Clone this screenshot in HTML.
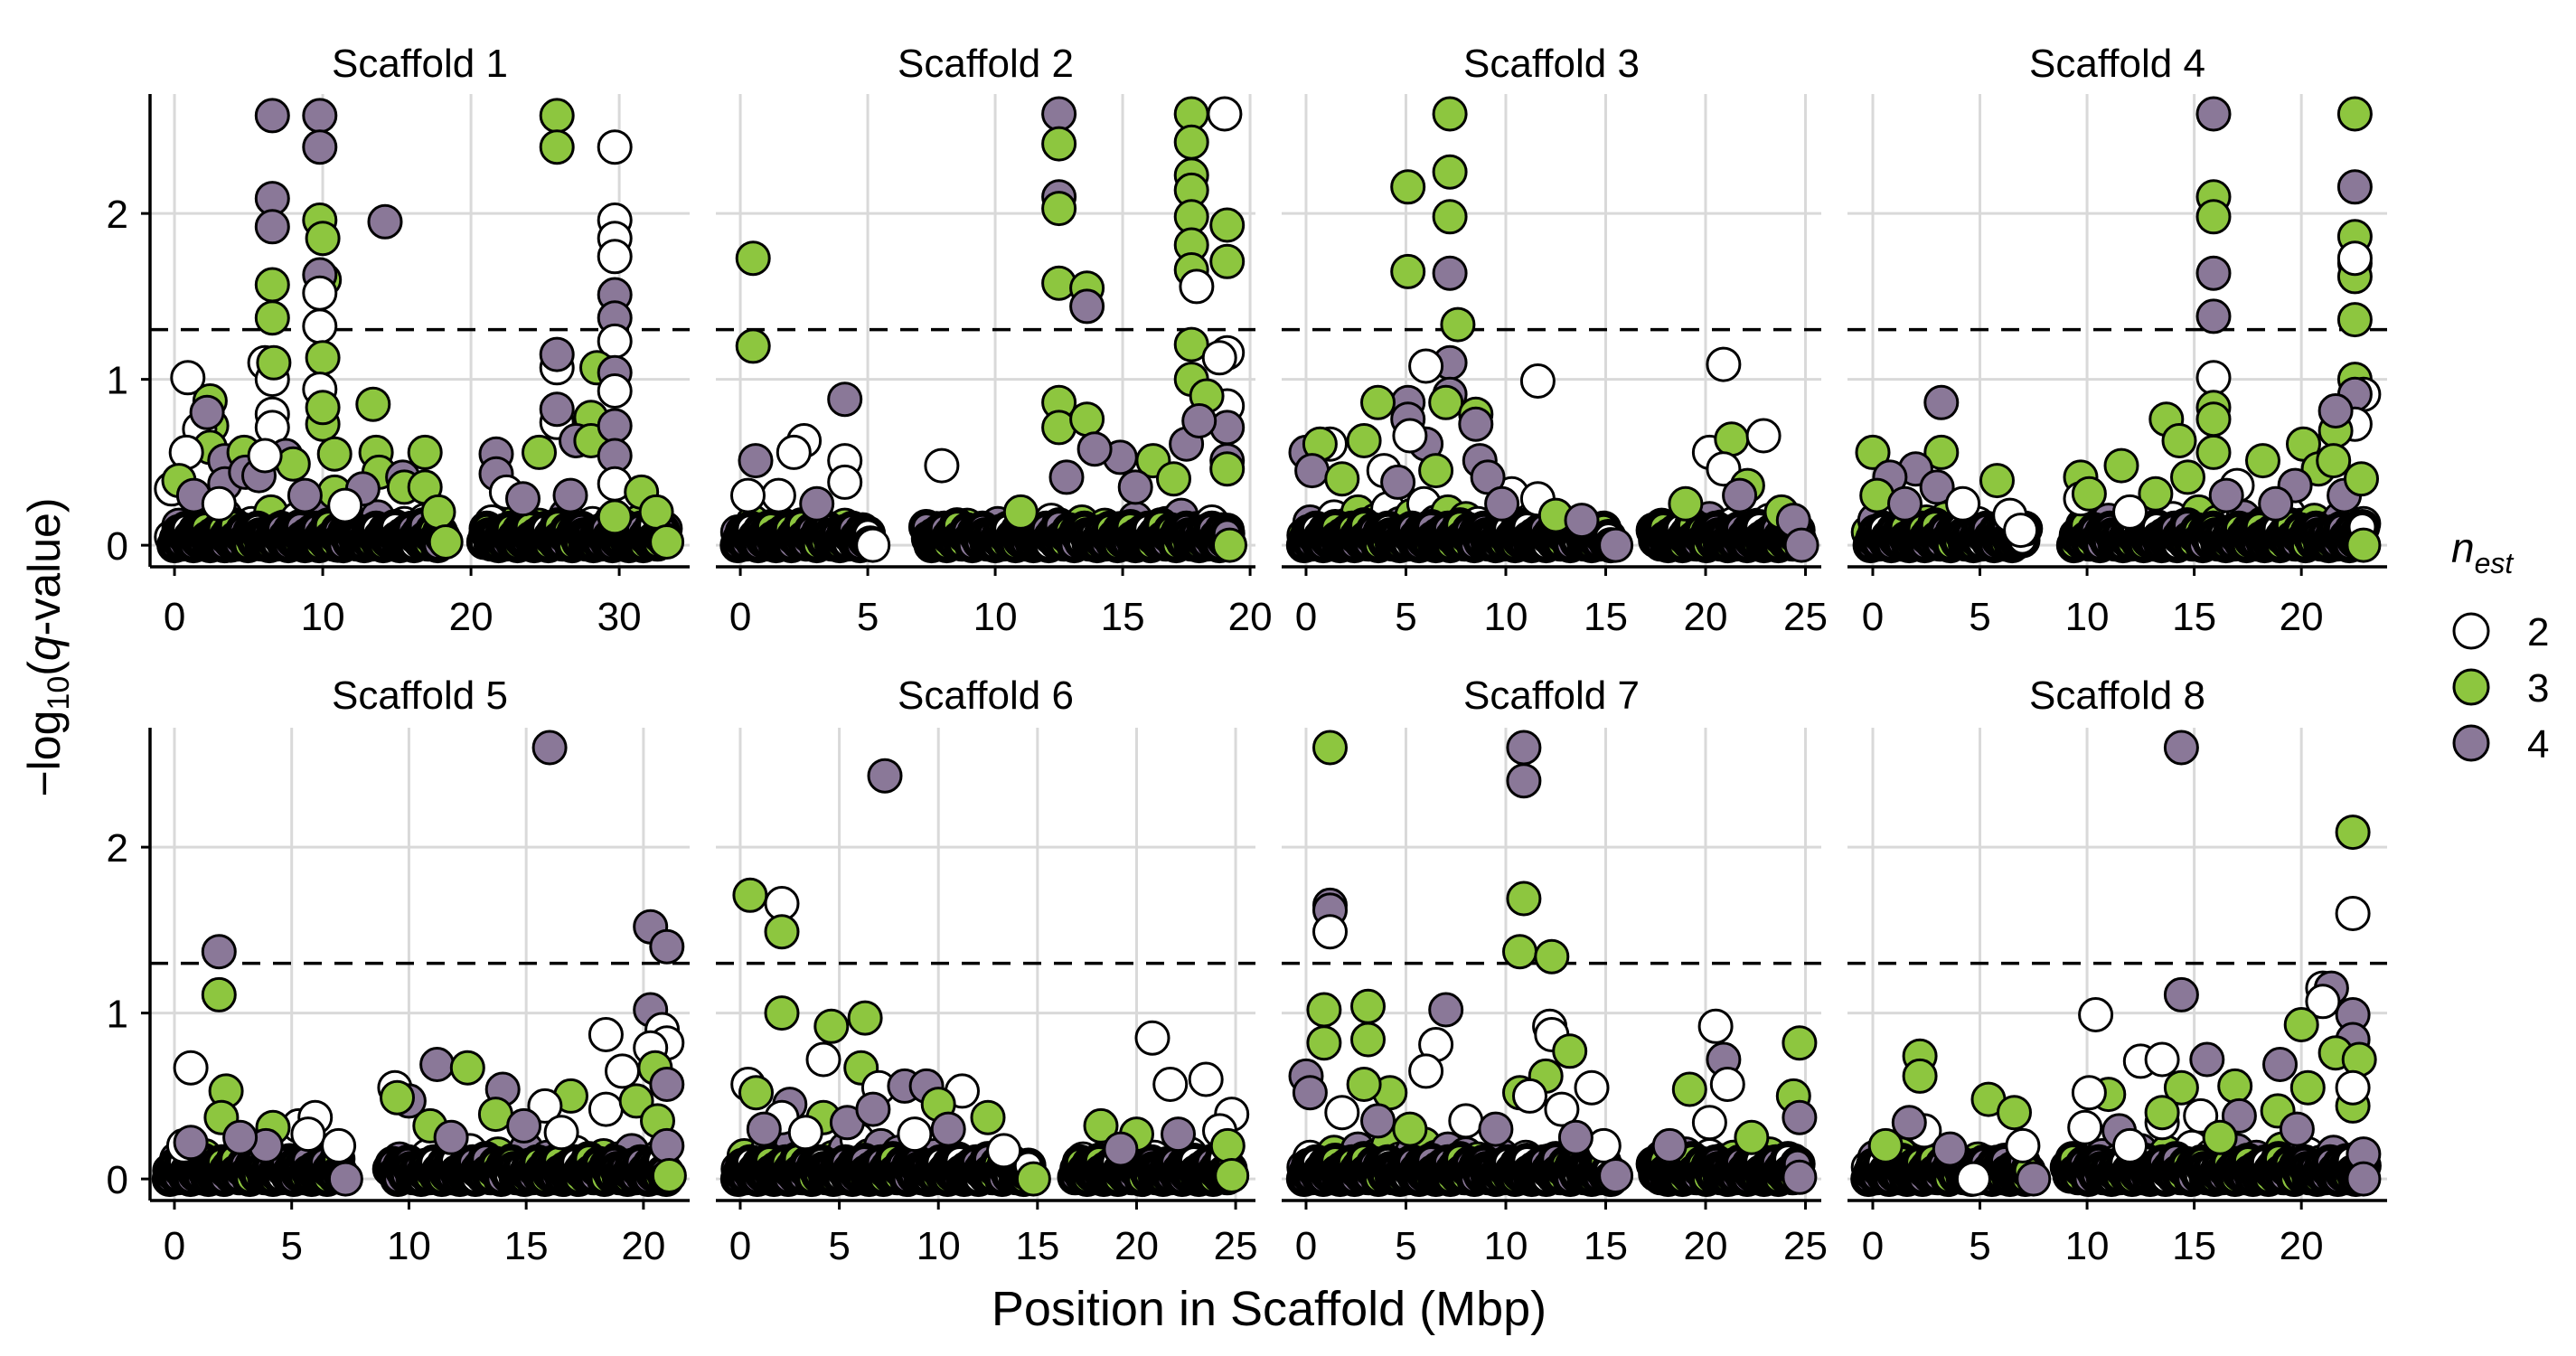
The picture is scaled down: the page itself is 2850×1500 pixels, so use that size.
<!DOCTYPE html>
<html><head><meta charset="utf-8"><style>
html,body{margin:0;padding:0;background:#fff;}
svg{display:block;font-family:"Liberation Sans",Arial,sans-serif;}
</style></head><body>
<svg id="chart" width="2850" height="1500" viewBox="0 0 2850 1500" xmlns="http://www.w3.org/2000/svg">
<rect width="2850" height="1500" fill="#fff"/>
<g id="panels"></g>
<text x="1404" y="1466" font-size="54" text-anchor="middle">Position in Scaffold (Mbp)</text>
<text transform="translate(66,716) rotate(-90)" font-size="50" text-anchor="middle">−log<tspan font-size="34" dy="10">10</tspan><tspan dy="-10">(</tspan><tspan font-style="italic">q</tspan>-value)</text>
<g>
<text x="2712" y="622" font-size="46" font-style="italic">n<tspan font-size="32" dy="12">est</tspan></text>
<circle cx="2734" cy="698" r="19" fill="#ffffff" stroke="#000" stroke-width="3"/>
<text x="2796" y="714" font-size="44">2</text>
<circle cx="2734" cy="760" r="19" fill="#8dc63f" stroke="#000" stroke-width="3"/>
<text x="2796" y="776" font-size="44">3</text>
<circle cx="2734" cy="822" r="19" fill="#8a7898" stroke="#000" stroke-width="3"/>
<text x="2796" y="838" font-size="44">4</text>
</g>
</svg>
<script>
const scaffoldNames = ["Scaffold 1","Scaffold 2","Scaffold 3","Scaffold 4","Scaffold 5","Scaffold 6","Scaffold 7","Scaffold 8"];
const xDomains = [[-1.65,34.75],[-0.96,20.21],[-1.22,25.79],[-1.18,24.0],[-1.04,21.97],[-1.23,26.0],[-1.22,25.79],[-1.18,24.0]];
const xTicks = [[0,10,20,30],[0,5,10,15,20],[0,5,10,15,20,25],[0,5,10,15,20],[0,5,10,15,20],[0,5,10,15,20,25],[0,5,10,15,20,25],[0,5,10,15,20]];
const yTicks = [0,1,2];
const yDomain = [-0.13,2.72];
const threshold = 1.3;
const nColors = {2:"#ffffff",3:"#8dc63f",4:"#8a7898"};

// dense near-zero SNP cloud: covered position ranges and spacing per scaffold, plus typed low q-values
const denseSegs = [[[0,18.2],[20.9,33.1]],[[-0.1,5.1],[7.3,19.1]],[[-0.1,15.3],[17.4,24.7]],[[-0.1,7.1],[9.4,22.9]],[[-0.2,7.2],[9.2,21.0]],[[-0.1,14.6],[16.9,24.7]],[[-0.1,15.3],[17.4,24.7]],[[-0.2,7.3],[9.1,22.9]]];
const denseStep = [0.16,0.1,0.12,0.12,0.11,0.12,0.12,0.12];
const denseVals = [0,.04,.08,.01,.06,.1,.02,.05,0,.09,.03,.07,.01,.11,.04,0,.06,.02,.08,.03,.1,0,.05,.07,.02,.12,.04,.01,.06,.09,.03,0,.08,.05,.02,.1,.06,.01,.04,.07];
const denseN = [4,2,3,4,3,2,4,3,4,2,3,4,4,3,2,3,4,2,4,3,3];

const base1 = [[-0.2,0.05,2],[0.3,0.12,4],[0.7,0.02,3],[1.2,0.08,2],[1.6,0.15,3],[2.0,0.03,4],[2.5,0.1,2],[2.9,0.05,3],[3.4,0.18,4],[3.8,0,2],[4.3,0.09,3],[4.7,0.04,4],[5.2,0.13,2],[5.6,0.01,3],[6.1,0.07,4],[6.5,0.2,3],[7.0,0.03,2],[7.4,0.11,4],[7.9,0.05,3],[8.3,0.16,2],[8.8,0.02,4],[9.2,0.09,3],[9.7,0.22,4],[10.1,0.04,2],[10.6,0.12,3],[11.0,0,4],[11.5,0.07,2],[11.9,0.14,3],[12.4,0.03,4],[12.8,0.1,2],[13.3,0.06,3],[13.7,0.17,4],[14.2,0.01,2],[14.6,0.09,3],[15.1,0.04,4],[15.5,0.13,2],[16.0,0.02,3],[16.4,0.08,4],[16.9,0.15,2],[17.3,0.05,3],[17.8,0.1,4],[18.1,0.03,2],
[21.0,0.06,4],[21.4,0.14,2],[21.9,0.02,3],[22.3,0.09,4],[22.8,0.04,2],[23.2,0.16,3],[23.7,0.01,4],[24.1,0.08,2],[24.6,0.12,3],[25.0,0.03,4],[25.5,0.1,2],[25.9,0.05,3],[26.4,0.18,4],[26.8,0,2],[27.3,0.09,3],[27.7,0.04,4],[28.2,0.13,2],[28.6,0.02,3],[29.1,0.07,4],[29.5,0.15,2],[30.0,0.03,3],[30.4,0.11,4],[30.9,0.05,2],[31.3,0.14,3],[31.8,0.02,4],[32.2,0.08,2],[32.7,0.05,3],[33.1,0.1,4]];
const hits1 = [[6.6,2.59,4],[9.8,2.59,4],[9.8,2.4,4],[25.8,2.59,3],[25.8,2.4,3],[29.7,2.4,2],[6.6,2.09,4],[6.6,1.92,4],[9.8,1.96,3],[10.0,1.85,3],[14.2,1.95,4],[29.7,1.96,2],[29.7,1.85,2],[29.7,1.74,2],[10.1,1.6,3],[9.8,1.63,4],[9.8,1.52,2],[9.8,1.32,2],[6.6,1.57,3],[6.6,1.37,3],[29.7,1.51,4],[29.7,1.37,4],[29.7,1.23,2],[6.1,1.1,2],[6.6,1.0,2],[6.7,1.1,3],[10,1.13,3],[0.9,1.01,2],[25.8,1.07,2],[25.8,1.15,4],[28.5,1.07,3],[29.7,1.04,4],[29.7,0.93,2],[9.8,0.94,2],[10,0.73,3],[10,0.83,3],[13.4,0.85,3],[2.4,0.87,3],[2.5,0.72,3],[1.7,0.7,2],[2.2,0.8,4],[6.6,0.79,2],[6.6,0.71,2],[25.8,0.74,2],[25.8,0.82,4],[28.1,0.77,3],[27.1,0.63,4],[28.1,0.63,3],[29.7,0.72,4],[29.7,0.54,4],[24.6,0.56,3],[21.7,0.55,4],[21.7,0.43,4],[22.4,0.32,2],[29.7,0.37,2],[31.5,0.32,3],[29.7,0.17,3],[10.8,0.55,3],[7.5,0.54,4],[8,0.49,3],[2.4,0.59,3],[0.8,0.56,2],[3.4,0.51,4],[3.4,0.37,4],[4.7,0.56,3],[4.8,0.44,4],[13.6,0.56,3],[13.8,0.44,3],[15.4,0.41,4],[15.5,0.35,3],[16.9,0.56,3],[16.9,0.35,3],[10.8,0.32,3],[12.7,0.34,4],[-0.2,0.34,2],[0.3,0.39,3],[5.7,0.42,4],[6.1,0.54,2],[1.3,0.3,4],[3.0,0.25,2],[8.8,0.3,4],[11.5,0.24,2],[17.8,0.2,3],[23.5,0.28,4],[26.7,0.3,4],[32.5,0.2,3],[18.3,0.02,3],[33.2,0.02,3]];

const base2 = [[-0.1,0.08,4],[0.2,0.02,2],[0.5,0.14,3],[0.8,0.05,4],[1.1,0.1,2],[1.4,0.01,3],[1.7,0.12,4],[2.0,0.04,2],[2.3,0.09,3],[2.6,0.02,4],[2.9,0.15,2],[3.2,0.06,3],[3.5,0.1,4],[3.8,0.03,2],[4.1,0.12,3],[4.4,0.05,4],[4.7,0.08,2],[5.0,0.02,3],
[7.4,0.05,4],[7.7,0.1,2],[8.0,0.02,3],[8.3,0.08,4],[8.6,0.04,2],[8.9,0.12,3],[9.2,0.01,4],[9.5,0.09,2],[9.8,0.05,3],[10.1,0.13,4],[10.4,0.02,2],[10.7,0.08,3],[11.0,0.04,4],[11.3,0.11,2],[11.6,0.03,3],[11.9,0.09,4],[12.2,0.15,2],[12.5,0.02,3],[12.8,0.1,4],[13.1,0.05,2],[13.4,0.14,3],[13.7,0.01,4],[14.0,0.08,2],[14.3,0.12,3],[14.6,0.03,4],[14.9,0.1,2],[15.2,0.06,3],[15.5,0.16,4],[15.8,0.02,2],[16.1,0.09,3],[16.4,0.04,4],[16.7,0.13,2],[17.0,0.07,3],[17.3,0.18,4],[17.6,0.03,2],[17.9,0.1,3],[18.2,0.05,4],[18.5,0.14,2],[18.8,0.02,3],[19.1,0.09,4]];
const hits2 = [[0.5,1.73,3],[0.5,1.2,3],[12.5,2.6,4],[12.5,2.42,3],[12.5,2.1,4],[12.5,2.03,3],[12.5,1.58,3],[13.6,1.55,3],[13.6,1.44,4],[17.7,2.6,3],[17.7,2.43,3],[17.7,2.23,3],[17.7,2.14,3],[17.7,1.98,3],[17.7,1.81,3],[17.7,1.66,3],[17.9,1.56,2],[17.7,1.21,3],[17.7,1.0,3],[19.0,2.6,2],[19.1,1.93,3],[19.1,1.71,3],[19.1,1.16,2],[18.8,1.13,2],[19.1,0.84,2],[12.5,0.86,3],[12.5,0.71,3],[13.6,0.76,3],[4.1,0.88,4],[2.5,0.63,2],[2.1,0.56,2],[4.1,0.51,2],[4.1,0.38,2],[0.6,0.51,4],[7.9,0.48,2],[19.1,0.71,4],[19.1,0.51,4],[19.1,0.46,3],[17.5,0.61,4],[16.2,0.51,3],[14.9,0.53,4],[13.9,0.58,4],[12.8,0.41,4],[1.5,0.3,2],[3.0,0.25,4],[0.3,0.3,2],[11.0,0.2,3],[15.5,0.35,4],[17.0,0.4,3],[18.3,0.9,3],[18.0,0.75,4],[5.2,0,2],[19.2,0,3]];

const base3 = [[-0.1,0.06,3],[0.2,0.14,4],[0.5,0.02,2],[0.8,0.1,3],[1.1,0.05,4],[1.4,0.17,2],[1.7,0.03,3],[2.0,0.12,4],[2.3,0.07,2],[2.6,0.2,3],[2.9,0.01,4],[3.2,0.09,2],[3.5,0.15,3],[3.8,0.04,4],[4.1,0.22,2],[4.4,0.06,3],[4.7,0.13,4],[5.0,0.02,2],[5.3,0.18,3],[5.6,0.08,4],[5.9,0.25,2],[6.2,0.03,3],[6.5,0.14,4],[6.8,0.07,2],[7.1,0.2,3],[7.4,0.02,4],[7.7,0.11,2],[8.0,0.16,3],[8.3,0.05,4],[8.6,0.13,2],[8.9,0.03,3],[9.2,0.1,4],[9.5,0.06,2],[9.8,0.14,3],[10.1,0.02,4],[10.4,0.09,2],[10.7,0.05,3],[11.0,0.12,4],[11.3,0.01,2],[11.6,0.08,3],[11.9,0.04,4],[12.2,0.1,2],[12.5,0.02,3],[12.8,0.07,4],[13.1,0.12,2],[13.4,0.03,3],[13.7,0.09,4],[14.0,0.05,2],[14.3,0.1,3],[14.6,0.02,4],[14.9,0.06,2],[15.2,0.03,3],
[17.5,0.05,4],[17.8,0.12,2],[18.1,0.02,3],[18.4,0.09,4],[18.7,0.04,2],[19.0,0.14,3],[19.3,0.01,4],[19.6,0.1,2],[19.9,0.06,3],[20.2,0.16,4],[20.5,0.03,2],[20.8,0.11,3],[21.1,0.05,4],[21.4,0.13,2],[21.7,0.02,3],[22.0,0.09,4],[22.3,0.04,2],[22.6,0.12,3],[22.9,0.07,4],[23.2,0.15,2],[23.5,0.02,3],[23.8,0.09,4],[24.1,0.05,2],[24.4,0.11,3],[24.7,0.03,4]];
const hits3 = [[7.2,2.6,3],[7.2,2.25,3],[7.2,1.98,3],[5.1,2.16,3],[7.2,1.64,4],[5.1,1.65,3],[7.6,1.33,3],[7.2,1.1,4],[6.0,1.08,2],[11.6,0.99,2],[20.9,1.09,2],[5.1,0.86,4],[5.1,0.76,4],[3.6,0.86,3],[7.2,0.91,4],[7.0,0.86,3],[8.5,0.79,3],[8.5,0.73,4],[6.0,0.61,4],[5.2,0.66,2],[2.9,0.63,3],[1.2,0.61,2],[0,0.56,4],[0.7,0.61,3],[20.2,0.56,2],[21.3,0.64,3],[22.9,0.66,2],[20.9,0.46,2],[22.1,0.36,3],[8.7,0.51,4],[10.3,0.31,2],[11.6,0.28,2],[9.1,0.41,4],[0.3,0.45,4],[1.8,0.4,3],[3.9,0.45,2],[4.6,0.38,4],[6.5,0.45,3],[9.8,0.25,4],[12.5,0.18,3],[13.8,0.15,4],[21.7,0.3,4],[23.8,0.2,3],[19.0,0.25,3],[24.4,0.15,4],[15.5,0,4],[24.8,0,4]];

const base4 = [[-0.2,0.08,3],[0.1,0.15,4],[0.4,0.03,2],[0.7,0.11,3],[1.0,0.05,4],[1.3,0.18,2],[1.6,0.02,3],[1.9,0.1,4],[2.2,0.06,2],[2.5,0.14,3],[2.8,0.01,4],[3.1,0.09,2],[3.4,0.16,3],[3.7,0.04,4],[4.0,0.12,2],[4.3,0.03,3],[4.6,0.08,4],[4.9,0.13,2],[5.2,0.02,3],[5.5,0.07,4],[5.8,0.1,2],[6.1,0.03,3],[6.4,0.06,4],[6.7,0.02,2],[7.0,0.05,4],
[9.5,0.06,2],[9.8,0.12,3],[10.1,0.02,4],[10.4,0.09,2],[10.7,0.05,3],[11.0,0.15,4],[11.3,0.01,2],[11.6,0.1,3],[11.9,0.04,4],[12.2,0.13,2],[12.5,0.07,3],[12.8,0.18,4],[13.1,0.02,2],[13.4,0.11,3],[13.7,0.05,4],[14.0,0.16,2],[14.3,0.03,3],[14.6,0.12,4],[14.9,0.06,2],[15.2,0.2,3],[15.5,0.02,4],[15.8,0.1,2],[16.1,0.14,3],[16.4,0.04,4],[16.7,0.11,2],[17.0,0.07,3],[17.3,0.17,4],[17.6,0.01,2],[17.9,0.09,3],[18.2,0.13,4],[18.5,0.04,2],[18.8,0.1,3],[19.1,0.06,4],[19.4,0.19,2],[19.7,0.02,3],[20.0,0.12,4],[20.3,0.05,2],[20.6,0.15,3],[20.9,0.03,4],[21.2,0.1,2],[21.5,0.07,3],[21.8,0.16,4],[22.1,0.02,2],[22.4,0.11,3],[22.7,0.05,4],[22.9,0.13,2]];
const hits4 = [[0,0.56,3],[3.2,0.86,4],[3.2,0.56,3],[2,0.46,4],[5.8,0.39,3],[0.8,0.41,4],[0.2,0.3,3],[1.5,0.25,4],[3.0,0.35,4],[4.2,0.25,2],[6.4,0.18,2],[6.9,0.09,2],[15.9,2.6,4],[15.9,2.1,3],[15.9,1.98,3],[15.9,1.64,4],[15.9,1.38,4],[15.9,1.01,2],[15.9,0.83,3],[15.9,0.76,3],[15.9,0.56,3],[22.5,2.6,3],[22.5,2.16,4],[22.5,1.86,3],[22.5,1.7,3],[22.5,1.62,3],[22.5,1.73,2],[22.5,1.36,3],[22.5,1.0,3],[22.9,0.91,2],[22.5,0.91,4],[22.5,0.73,2],[21.6,0.69,3],[13.7,0.76,3],[14.3,0.63,3],[11.6,0.48,3],[9.7,0.41,3],[9.7,0.28,2],[10.1,0.31,3],[18.2,0.51,3],[20.1,0.61,3],[20.8,0.46,3],[19.7,0.36,4],[17.0,0.36,2],[14.7,0.41,3],[13.2,0.31,3],[21.6,0.81,4],[21.5,0.51,3],[16.5,0.3,4],[12.0,0.2,2],[18.8,0.25,4],[22.0,0.3,4],[22.8,0.4,3],[22.9,0,3]];

const base5 = [[-0.2,0.05,2],[0.1,0.12,4],[0.4,0.02,3],[0.7,0.09,2],[1.0,0.04,4],[1.3,0.14,3],[1.6,0.01,2],[1.9,0.08,4],[2.2,0.05,3],[2.5,0.12,2],[2.8,0.02,4],[3.1,0.1,3],[3.4,0.06,2],[3.7,0.13,4],[4.0,0.03,3],[4.3,0.09,2],[4.6,0.05,4],[4.9,0.11,3],[5.2,0.02,2],[5.5,0.08,4],[5.8,0.04,3],[6.1,0.1,2],[6.4,0.03,4],[6.7,0.07,3],[7.0,0.02,2],
[9.3,0.06,3],[9.6,0.12,4],[9.9,0.02,2],[10.2,0.09,3],[10.5,0.05,4],[10.8,0.14,2],[11.1,0.01,3],[11.4,0.1,4],[11.7,0.04,2],[12.0,0.13,3],[12.3,0.06,4],[12.6,0.17,2],[12.9,0.02,3],[13.2,0.1,4],[13.5,0.05,2],[13.8,0.15,3],[14.1,0.03,4],[14.4,0.11,2],[14.7,0.07,3],[15.0,0.18,4],[15.3,0.02,2],[15.6,0.09,3],[15.9,0.13,4],[16.2,0.04,2],[16.5,0.11,3],[16.8,0.06,4],[17.1,0.16,2],[17.4,0.01,3],[17.7,0.1,4],[18.0,0.05,2],[18.3,0.14,3],[18.6,0.03,4],[18.9,0.12,2],[19.2,0.07,3],[19.5,0.17,4],[19.8,0.02,2],[20.1,0.1,3],[20.4,0.05,4],[20.7,0.14,2],[21.0,0.04,3]];
const hits5 = [[0.7,0.67,2],[1.9,1.37,4],[1.9,1.11,3],[2.2,0.53,3],[2.0,0.37,3],[5.3,0.32,2],[6.0,0.37,2],[5.7,0.27,2],[4.2,0.31,3],[3.9,0.2,4],[7.0,0.2,2],[0.4,0.2,2],[0.7,0.22,4],[2.8,0.25,4],[7.3,0,4],[16,2.6,4],[20.3,1.52,4],[21,1.4,4],[20.3,1.02,4],[20.8,0.9,2],[21,0.82,2],[20.3,0.79,2],[18.4,0.87,2],[19.1,0.65,2],[20.5,0.67,3],[21,0.57,4],[16.9,0.5,3],[15.8,0.44,2],[14,0.54,4],[11.2,0.69,4],[12.5,0.67,3],[9.4,0.55,2],[10,0.47,4],[9.5,0.49,3],[10.9,0.32,3],[13.7,0.39,3],[14.9,0.32,4],[18.4,0.42,2],[19.7,0.47,3],[11.8,0.25,4],[16.5,0.28,2],[20.6,0.35,3],[21.0,0.2,4],[21.1,0.02,3]];

const base6 = [[-0.1,0.06,4],[0.2,0.14,3],[0.5,0.02,2],[0.8,0.1,4],[1.1,0.05,3],[1.4,0.18,2],[1.7,0.03,4],[2.0,0.12,3],[2.3,0.07,2],[2.6,0.2,4],[2.9,0.01,3],[3.2,0.09,2],[3.5,0.15,4],[3.8,0.04,3],[4.1,0.22,2],[4.4,0.06,4],[4.7,0.13,3],[5.0,0.02,2],[5.3,0.18,4],[5.6,0.08,3],[5.9,0.24,2],[6.2,0.03,4],[6.5,0.14,3],[6.8,0.07,2],[7.1,0.2,4],[7.4,0.02,3],[7.7,0.11,2],[8.0,0.16,4],[8.3,0.05,3],[8.6,0.13,2],[8.9,0.03,4],[9.2,0.1,3],[9.5,0.06,2],[9.8,0.14,4],[10.1,0.02,3],[10.4,0.09,2],[10.7,0.05,4],[11.0,0.12,3],[11.3,0.01,2],[11.6,0.08,4],[11.9,0.04,3],[12.2,0.1,2],[12.5,0.02,4],[12.8,0.07,3],[13.1,0.11,2],[13.4,0.03,4],[13.7,0.08,3],[14.0,0.05,2],[14.3,0.02,4],
[17.0,0.05,3],[17.3,0.12,2],[17.6,0.02,4],[17.9,0.09,3],[18.2,0.04,2],[18.5,0.14,4],[18.8,0.01,3],[19.1,0.1,2],[19.4,0.06,4],[19.7,0.16,3],[20.0,0.03,2],[20.3,0.11,4],[20.6,0.05,3],[20.9,0.13,2],[21.2,0.02,4],[21.5,0.09,3],[21.8,0.04,2],[22.1,0.12,4],[22.4,0.07,3],[22.7,0.15,2],[23.0,0.02,4],[23.3,0.09,3],[23.6,0.05,2],[23.9,0.11,4],[24.2,0.03,3],[24.5,0.08,2]];
const hits6 = [[0.5,1.71,3],[2.1,1.66,2],[2.1,1.49,3],[7.3,2.43,4],[2.1,1.0,3],[4.6,0.92,3],[6.3,0.97,3],[4.2,0.72,2],[6.1,0.67,3],[7,0.55,2],[8.3,0.56,4],[9.4,0.56,4],[11.2,0.53,2],[10,0.45,3],[0.4,0.57,2],[0.8,0.52,3],[2.5,0.45,4],[2.1,0.37,2],[4.2,0.37,3],[5.4,0.34,4],[6.7,0.42,4],[8.8,0.27,2],[12.5,0.37,3],[13.3,0.17,2],[1.2,0.3,4],[3.3,0.28,2],[10.5,0.3,4],[14.8,0,3],[20.8,0.85,2],[21.7,0.57,2],[23.5,0.6,2],[24.8,0.39,2],[24.2,0.29,2],[18.2,0.32,3],[20,0.27,3],[24.6,0.2,3],[22.1,0.27,4],[19.2,0.18,4],[24.8,0.02,3]];

const base7 = [[-0.1,0.07,4],[0.2,0.13,2],[0.5,0.03,3],[0.8,0.1,4],[1.1,0.05,2],[1.4,0.16,3],[1.7,0.02,4],[2.0,0.11,2],[2.3,0.06,3],[2.6,0.18,4],[2.9,0.01,2],[3.2,0.09,3],[3.5,0.14,4],[3.8,0.04,2],[4.1,0.2,3],[4.4,0.06,4],[4.7,0.12,2],[5.0,0.02,3],[5.3,0.16,4],[5.6,0.08,2],[5.9,0.21,3],[6.2,0.03,4],[6.5,0.13,2],[6.8,0.07,3],[7.1,0.18,4],[7.4,0.02,2],[7.7,0.1,3],[8.0,0.15,4],[8.3,0.05,2],[8.6,0.12,3],[8.9,0.03,4],[9.2,0.1,2],[9.5,0.06,3],[9.8,0.14,4],[10.1,0.02,2],[10.4,0.09,3],[10.7,0.05,4],[11.0,0.13,2],[11.3,0.01,3],[11.6,0.08,4],[11.9,0.04,2],[12.2,0.11,3],[12.5,0.02,4],[12.8,0.07,2],[13.1,0.12,3],[13.4,0.03,4],[13.7,0.09,2],[14.0,0.05,3],[14.3,0.1,4],[14.6,0.02,2],[14.9,0.06,3],
[17.5,0.06,2],[17.8,0.13,3],[18.1,0.02,4],[18.4,0.1,2],[18.7,0.04,3],[19.0,0.15,4],[19.3,0.01,2],[19.6,0.09,3],[19.9,0.06,4],[20.2,0.14,2],[20.5,0.03,3],[20.8,0.11,4],[21.1,0.05,2],[21.4,0.13,3],[21.7,0.02,4],[22.0,0.09,2],[22.3,0.04,3],[22.6,0.12,4],[22.9,0.07,2],[23.2,0.15,3],[23.5,0.02,4],[23.8,0.09,2],[24.1,0.05,3],[24.4,0.11,4]];
const hits7 = [[1.2,2.6,3],[1.2,1.65,4],[1.2,1.62,4],[1.2,1.49,2],[0.9,1.02,3],[0.9,0.82,3],[3.1,1.04,3],[3.1,0.84,3],[0,0.62,4],[0.2,0.52,4],[6.5,0.81,2],[7,1.02,4],[6,0.65,2],[4.2,0.52,3],[2.9,0.57,3],[1.8,0.4,2],[3.6,0.35,4],[5.2,0.3,3],[8.0,0.35,2],[9.5,0.3,4],[10.9,2.6,4],[10.9,2.4,4],[10.9,1.69,3],[10.7,1.37,3],[12.3,1.34,3],[12.2,0.92,2],[12.3,0.87,2],[13.2,0.77,3],[12,0.62,3],[14.3,0.55,2],[12.8,0.42,2],[10.7,0.52,3],[11.2,0.5,2],[14.9,0.2,2],[13.5,0.25,4],[15.5,0.02,4],[20.5,0.92,2],[20.9,0.72,4],[21.1,0.57,2],[19.2,0.54,3],[20.2,0.34,2],[24.7,0.82,3],[24.4,0.5,3],[24.7,0.37,4],[22.3,0.25,3],[18.2,0.2,4],[24.7,0.01,4]];

const base8 = [[-0.2,0.07,2],[0.1,0.13,4],[0.4,0.02,3],[0.7,0.1,2],[1.0,0.05,4],[1.3,0.15,3],[1.6,0.02,2],[1.9,0.09,4],[2.2,0.04,3],[2.5,0.12,2],[2.8,0.01,4],[3.1,0.08,3],[3.4,0.14,2],[3.7,0.04,4],[4.0,0.1,3],[4.3,0.03,2],[4.6,0.08,4],[4.9,0.12,3],[5.2,0.02,2],[5.5,0.07,4],[5.8,0.1,3],[6.1,0.03,2],[6.4,0.06,4],[6.7,0.09,3],[7.0,0.02,2],
[9.2,0.05,3],[9.5,0.12,2],[9.8,0.02,4],[10.1,0.09,3],[10.4,0.05,2],[10.7,0.14,4],[11.0,0.01,3],[11.3,0.1,2],[11.6,0.04,4],[11.9,0.13,3],[12.2,0.07,2],[12.5,0.17,4],[12.8,0.02,3],[13.1,0.11,2],[13.4,0.05,4],[13.7,0.16,3],[14.0,0.03,2],[14.3,0.12,4],[14.6,0.06,3],[14.9,0.19,2],[15.2,0.02,4],[15.5,0.1,3],[15.8,0.14,2],[16.1,0.04,4],[16.4,0.11,3],[16.7,0.07,2],[17.0,0.17,4],[17.3,0.01,3],[17.6,0.09,2],[17.9,0.13,4],[18.2,0.04,3],[18.5,0.1,2],[18.8,0.06,4],[19.1,0.18,3],[19.4,0.02,2],[19.7,0.12,4],[20.0,0.05,3],[20.3,0.15,2],[20.6,0.03,4],[20.9,0.1,3],[21.2,0.07,2],[21.5,0.16,4],[21.8,0.02,3],[22.1,0.11,2],[22.4,0.05,4],[22.7,0.13,3]];
const hits8 = [[14.4,2.6,4],[22.4,2.09,3],[22.4,1.6,2],[14.4,1.11,4],[10.4,0.99,2],[21,1.15,2],[21.4,1.15,4],[21,1.07,2],[22.4,0.99,4],[22.4,0.84,4],[20,0.93,3],[21.6,0.76,3],[19,0.69,4],[22.7,0.72,3],[15.6,0.72,4],[12.5,0.71,2],[13.5,0.72,2],[14.4,0.55,3],[16.9,0.56,3],[11.0,0.51,3],[10.1,0.52,2],[20.3,0.55,3],[22.4,0.44,3],[17.1,0.38,4],[18.9,0.41,3],[9.9,0.31,2],[11.5,0.29,4],[15.3,0.38,2],[13.5,0.34,2],[13.5,0.4,3],[22.4,0.55,2],[22.9,0.15,4],[12.0,0.2,2],[16.2,0.25,3],[19.8,0.3,4],[22.9,0,4],[2.2,0.74,3],[2.2,0.62,3],[5.4,0.48,3],[6.6,0.4,3],[2.4,0.29,2],[1.7,0.34,4],[7,0.2,2],[0.6,0.2,3],[3.6,0.18,4],[7.5,0,4],[4.7,0,2]];

const baseSets = [base1,base2,base3,base4,base5,base6,base7,base8];
const hitSets = [hits1,hits2,hits3,hits4,hits5,hits6,hits7,hits8];

const NS = "http://www.w3.org/2000/svg";
const panelLefts = [166,792,1418,2044];
const panelW = 597;
const rowTops = [104,805];
const panelH = 523;
function mk(tag, attrs, parent){ const e=document.createElementNS(NS,tag); for(const k in attrs) e.setAttribute(k,attrs[k]); parent.appendChild(e); return e; }
const root = document.getElementById("panels");
for(let p=0;p<8;p++){
  const col=p%4, row=Math.floor(p/4);
  const L=panelLefts[col], T=rowTops[row];
  const xs = v => L + (v - xDomains[p][0])/(xDomains[p][1]-xDomains[p][0])*panelW;
  const ys = v => T + panelH - (v - yDomain[0])/(yDomain[1]-yDomain[0])*panelH;
  const g = mk("g",{},root);
  
  
  const title = mk("text",{x:L+panelW/2,y:row?784:85,"font-size":44,"text-anchor":"middle"},g);
  title.textContent = scaffoldNames[p];
  
  
  yTicks.forEach(t=>{ const l=mk("line",{x1:L,x2:L+panelW,y1:ys(t),y2:ys(t),stroke:"#d9d9d9","stroke-width":3},g);
    
     });
  xTicks[p].forEach(t=>{ const l=mk("line",{x1:xs(t),x2:xs(t),y1:T,y2:T+panelH,stroke:"#d9d9d9","stroke-width":3},g);
    
     });
  const th = mk("line",{x1:L,x2:L+panelW,y1:ys(threshold),y2:ys(threshold),stroke:"#000","stroke-width":3.5,"stroke-dasharray":"20 14"},g);
  
  
  baseSets[p].forEach(d=>{ const c=mk("circle",{cx:xs(d[0]).toFixed(1),cy:ys(d[1]).toFixed(1),r:18,fill:nColors[d[2]],stroke:"#000","stroke-width":3},g);
    
     });
  // dense near-zero cloud: overlapping outlines merge to a black band as in the reference
  let k=0;
  denseSegs[p].forEach(seg=>{
    for(let pos=seg[0]; pos<=seg[1]+1e-9; pos+=denseStep[p]){
      const v=denseVals[k%denseVals.length], n=denseN[k%denseN.length]; k++;
      const c=mk("circle",{cx:xs(pos).toFixed(1),cy:ys(v).toFixed(1),r:16.5,fill:nColors[n],stroke:"#000","stroke-width":7},g);
      
      
    }
  });
  hitSets[p].forEach(d=>{ const c=mk("circle",{cx:xs(d[0]).toFixed(1),cy:ys(d[1]).toFixed(1),r:18,fill:nColors[d[2]],stroke:"#000","stroke-width":3},g);
    
     });
  const xa = mk("line",{x1:L,x2:L+panelW,y1:T+panelH,y2:T+panelH,stroke:"#000","stroke-width":3.5},g);
  
  
  xTicks[p].forEach(t=>{ mk("line",{x1:xs(t),x2:xs(t),y1:T+panelH,y2:T+panelH+10,stroke:"#000","stroke-width":3},g);
    const tx=mk("text",{x:xs(t),y:row?1393:697,"font-size":44,"text-anchor":"middle"},g); tx.textContent=t;
    
     });
  if(col===0){
    const ya = mk("line",{x1:L,x2:L,y1:T,y2:T+panelH,stroke:"#000","stroke-width":3.5},g);
    
    
    yTicks.forEach(t=>{ mk("line",{x1:L-10,x2:L,y1:ys(t),y2:ys(t),stroke:"#000","stroke-width":3},g);
      const tx=mk("text",{x:L-24,y:ys(t)+16,"font-size":44,"text-anchor":"end"},g); tx.textContent=t;
      
       });
  }
}
</script>
</body></html>
